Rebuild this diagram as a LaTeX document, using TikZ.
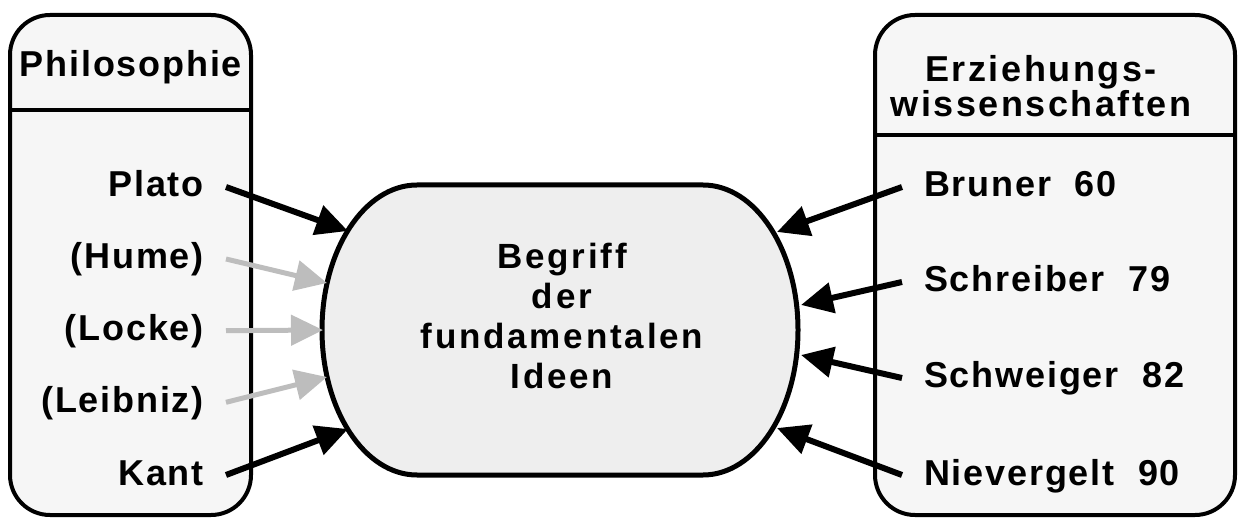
\documentclass[tikz,border=0pt]{standalone}
\usepackage{fontspec}
\setmainfont{Liberation Sans}
\newfontfamily\namenschrift[LetterSpace=5]{Liberation Sans}
\newfontfamily\kopfschrift[LetterSpace=7]{Liberation Sans}
\newfontfamily\ideenschrift[LetterSpace=8]{Liberation Sans}
\usetikzlibrary{arrows.meta}
\usetikzlibrary{positioning}
\usetikzlibrary{calc}
\definecolor{kastengrau}{gray}{0.965}
\definecolor{ideengrau}{gray}{0.933}
\definecolor{pfeilgrau}{gray}{0.74}
\tikzstyle{kasten}=[draw,line width=4pt,rounded corners=40pt,fill=kastengrau,inner sep=0pt,outer sep=0pt]
\tikzstyle{trenner}=[line width=4pt]
\tikzstyle{kopf}=[anchor=base,align=center,inner sep=0pt,font=\kopfschrift\bfseries\fontsize{36pt}{31pt}\selectfont]
\tikzstyle{linksname}=[anchor=base east,inner sep=0pt,font=\namenschrift\bfseries\fontsize{36pt}{40pt}\selectfont]
\tikzstyle{rechtsname}=[anchor=base west,inner sep=0pt,font=\namenschrift\bfseries\fontsize{36pt}{40pt}\selectfont]
\tikzstyle{pfeil}=[line width=6pt,-{Triangle[length=32pt,width=30pt]}]
\tikzstyle{grau}=[line width=5pt,pfeilgrau]

\begin{document}
\begin{tikzpicture}[x=1pt,y=-1pt]
\useasboundingbox (0,0) rectangle (1239,518);

%Philosophie
\node[kasten,minimum width=241pt,minimum height=500pt] (phil) at (130.5,265) {};
\draw[trenner] ($(phil.north west)+(0,95)$) -- ($(phil.north east)+(0,95)$);
\node[kopf,font=\namenschrift\bfseries\fontsize{36pt}{40pt}\selectfont] (philkopf) at (131,76.7) {Philosophie};

\foreach \y/\name/\label in {197/plato/Plato, 269/hume/{(Hume)}, 340.7/locke/{(Locke)}, 412.3/leibniz/{(Leibniz)}, 485/kant/Kant}
    \node[linksname] (\name) at (204,\y) {\label};

%Erziehungswissenschaften
\node[kasten,minimum width=360pt,minimum height=500pt] (erz) at (1055,265) {};
\draw[trenner] ($(erz.north west)+(0,120)$) -- ($(erz.north east)+(0,120)$);
\node[kopf] (erzkopf) at (1041,116.7) {Erziehungs-\\wissenschaften};

\foreach \y/\name/\label in {197/bruner/{Bruner~~60}, 292/schreiber/{Schreiber~~79}, 388/schweiger/{Schweiger~~82}, 485/nievergelt/{Nievergelt~~90}}
    \node[rechtsname] (\name) at (924,\y) {\label};

%Begriff
\draw[line width=5pt,fill=ideengrau] (417,475) arc[start angle=90,end angle=270,x radius=95,y radius=145]
    -- (703,185) arc[start angle=270,end angle=450,x radius=95,y radius=145] -- cycle;
\node[align=center,inner sep=0pt,font=\ideenschrift\bfseries\fontsize{35pt}{40pt}\selectfont] (idee) at (562,316) {Begriff\\der\\fundamentalen\\Ideen};

\foreach \x/\y/\name in {348/231/zplato, 327/283/zhume, 323/330/zlocke, 327/377/zleibniz, 348/429/zkant,
                         777/232/zbruner, 801/305/zschreiber, 801/355/zschweiger, 777/428/znievergelt}
    \coordinate (\name) at (\x,\y);

\foreach \source/\dest in {plato/zplato, kant/zkant}
    \draw[pfeil] ([xshift=22pt,yshift=10pt]\source.base east) -- (\dest);
\foreach \source/\dest in {hume/zhume, locke/zlocke, leibniz/zleibniz}
    \draw[pfeil,grau] ([xshift=22pt,yshift=10pt]\source.base east) -- (\dest);
\foreach \source/\dest in {bruner/zbruner, schreiber/zschreiber, schweiger/zschweiger, nievergelt/znievergelt}
    \draw[pfeil] ([xshift=-22pt,yshift=10pt]\source.base west) -- (\dest);

\end{tikzpicture}
\end{document}
